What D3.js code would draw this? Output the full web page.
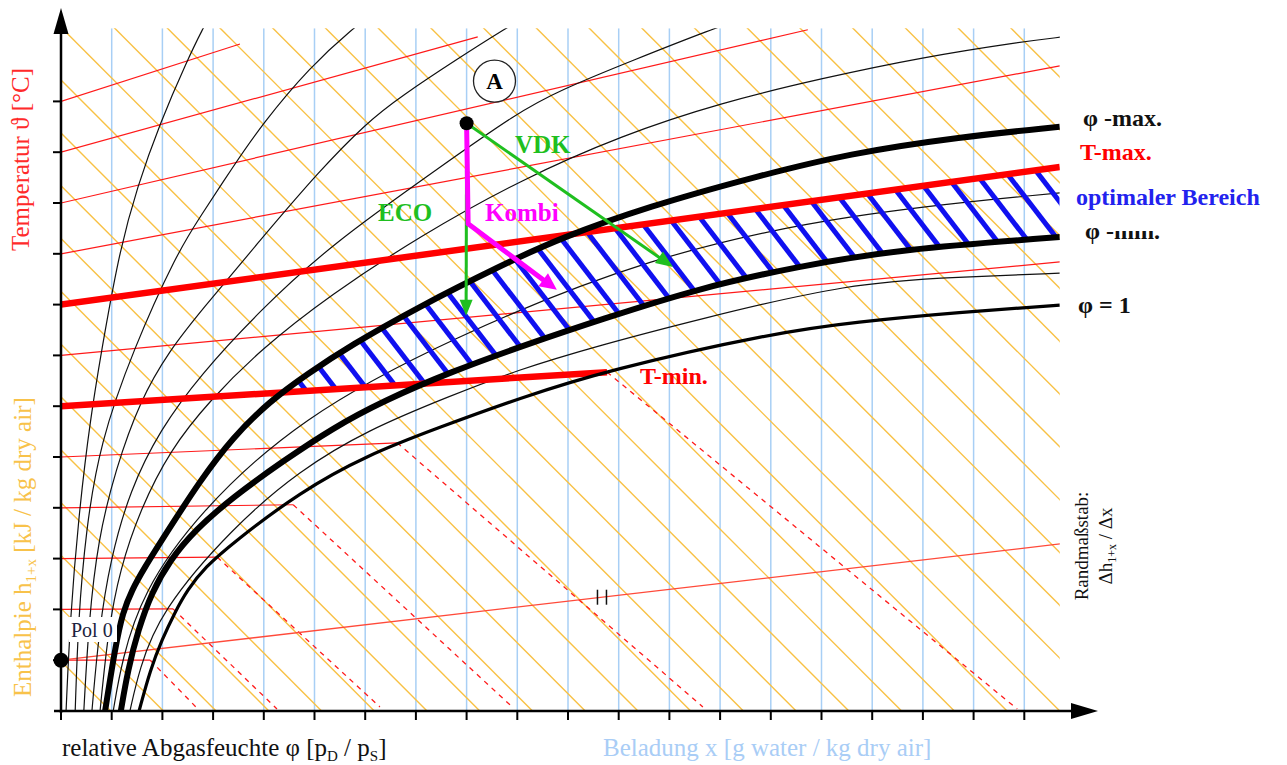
<!DOCTYPE html>
<html><head><meta charset="utf-8">
<script src="https://cdn.jsdelivr.net/npm/d3@7"></script>
<style>body{margin:0;background:#fff}svg{display:block}</style>
</head><body>
<svg id="chart" width="1287" height="765"></svg>
<script>
// ---------- DATA (grid units: one axis tick = 1) ----------
const xTickValues = [0,1,2,3,4,5,6,7,8,9,10,11,12,13,14,15,16,17,18,19];
const yTickValues = [1,2,3,4,5,6,7,8,9,10,11,12];
const beladungLines = [1,2,3,4,5,6,7,8,9,10,11,12,13,14,15,16,17,18,19];
const enthalpyLines = [0.98,2.02,3.06,4.10,5.14,6.18,7.22,8.26,9.30,10.34,11.38,12.42,13.46,14.50,15.54,16.58,17.62,18.66,19.70,20.74,21.78,22.82,23.86,24.90,25.94,26.98,28.02,29.06,30.10,31.14,32.18];
const isothermLevels = [1,2,3,4,5,6,7,8,9,10,11,12];
const isothermEnds = [[1.76,1.00],[2.21,2.01],[3.08,3.03],[4.58,4.06],[6.63,5.28],[10.77,6.67],[19.70,8.84],[19.70,10.71],[19.70,12.70],[14.73,13.41],[8.22,13.27],[3.53,13.13]];
const fogEnds = [[2.70,0.04],[4.26,0.04],[6.29,0.08],[8.90,0.08],[12.66,0.08],[18.86,0.04],null,null,null,null,null,null];
const tMinLevel = 6, tMaxLevel = 8;
const scaleLine = [[0,1],[19.72,3.29]];        // Randmaßstab from Pol 0
const scaleMark = [10.67,2.24];
const pol0 = [0,1];

const phiCurveA = [[0.10,0],[0.18,1.79],[0.34,3.76],[0.57,5.73],[0.87,7.50],[1.16,9.07],[1.50,10.31],[1.95,11.57],[2.49,12.81],[2.80,13.44],[2.98,13.76]];
const phiCurveB = [[0.28,0],[0.34,1.79],[0.49,3.56],[0.77,5.28],[1.42,7.11],[2.29,9.02],[2.74,9.72],[3.39,10.71],[3.98,11.57],[4.91,12.68],[5.76,13.44],[6.19,13.76]];
const phiCurveC = [[0.45,0],[0.55,1.79],[0.73,3.37],[1.07,4.74],[1.56,6.12],[2.15,7.11],[2.74,7.85],[3.93,9.27],[5.11,10.65],[6.04,11.59],[6.69,12.09],[7.87,12.87],[8.76,13.43],[9.25,13.72]];
const phiCurveD = [[0.61,0],[0.75,1.59],[0.97,2.97],[1.36,4.35],[1.95,5.53],[2.74,6.61],[3.93,7.89],[5.31,9.17],[7.48,10.71],[8.99,11.77],[9.84,12.22],[11.28,12.81],[12.86,13.43],[13.59,13.68]];
const phiCurveE = [[0.77,0],[0.93,1.59],[1.16,2.78],[1.56,3.96],[2.15,5.14],[2.94,6.12],[3.93,7.11],[5.31,8.19],[7.08,9.35],[9.05,10.45],[11.08,11.34],[13.00,11.97],[15.03,12.46],[17.00,12.87],[18.92,13.17],[19.76,13.27]];
const phiMax = [[0.87,0],[1.07,1.26],[1.22,1.95],[1.40,2.38],[1.62,2.78],[2.05,3.46],[2.74,4.53],[3.39,5.39],[4.12,6.10],[4.85,6.63],[5.70,7.19],[7.08,7.97],[8.66,8.76],[9.84,9.31],[11.62,9.94],[13.59,10.49],[15.56,10.98],[17.73,11.30],[19.70,11.50]];
const phiMid = [[1.03,0],[1.20,1.00],[1.60,2.32],[2.70,3.90],[4.71,5.77],[7.67,7.34],[11.62,8.96],[15.56,9.80],[19.70,10.20]];
const phiMin = [[1.18,0],[1.32,0.81],[1.52,1.59],[1.79,2.34],[2.15,2.97],[2.64,3.56],[3.39,4.21],[4.38,4.92],[5.36,5.57],[6.35,6.10],[7.67,6.67],[9.25,7.24],[10.63,7.70],[12.60,8.33],[14.58,8.76],[16.55,9.09],[19.70,9.33]];
const phiLow = [[1.36,0],[1.54,0.81],[1.95,1.95],[3.39,3.62],[4.71,4.74],[6.04,5.53],[7.67,6.20],[8.99,6.71],[10.63,7.20],[12.54,7.70],[15.56,8.43],[17.73,8.54],[19.70,8.62]];
const phiSat = [[1.54,0],[1.76,0.81],[1.99,1.40],[2.25,1.95],[2.49,2.38],[2.84,2.83],[3.39,3.31],[4.71,4.31],[6.04,5.04],[7.48,5.59],[9.05,6.16],[10.77,6.71],[14.04,7.44],[15.68,7.66],[17.73,7.85],[19.70,7.99]];

const stateA = [8.00,11.57];
const ecoEnd = [7.99,7.78];
const kombiCorner = [8.03,9.59];
const kombiEnd = [9.78,8.29];
const vdkEnd = [12.07,8.74];
const labelA = [8.55,12.40];

// ---------- SETUP ----------
const svg = d3.select("#chart");
const x = d3.scaleLinear().domain([0,20]).range([61,1075]);
const y = d3.scaleLinear().domain([0,13]).range([711,50.6]);
const U1 = 19.7, V1 = 13.44;
const serif = "'Liberation Serif','Times New Roman',serif";
const ORANGE = "#f8c144", LBLUE = "#a8cff5", RED = "#ff1a1a";

const defs = svg.append("defs");
defs.append("clipPath").attr("id","plotClip").append("rect")
  .attr("x",x(0)).attr("y",y(V1)).attr("width",x(U1)-x(0)).attr("height",y(0)-y(V1));

const curveGen = d3.line().x(d=>x(d[0])).y(d=>y(d[1])).curve(d3.curveBasis);
const straight = d3.line().x(d=>x(d[0])).y(d=>y(d[1]));

const plot = svg.append("g").attr("clip-path","url(#plotClip)");

// blue Beladung lines
plot.append("g").selectAll("line").data(beladungLines).join("line")
  .attr("x1",d=>x(d)).attr("x2",d=>x(d)).attr("y1",y(0)).attr("y2",y(V1))
  .attr("stroke",LBLUE).attr("stroke-width",1.5);

// orange isenthalps
plot.append("g").selectAll("line").data(enthalpyLines).join("line")
  .attr("x1",d=>x(d)).attr("y1",y(0)).attr("x2",d=>x(d-15)).attr("y2",y(15))
  .attr("stroke",ORANGE).attr("stroke-width",1.4);

// thin isotherms
const iso = isothermLevels.map((lv,i)=>({lv, end:isothermEnds[i], fog:fogEnds[i]}));
plot.append("g").selectAll("path").data(iso.filter(d=>d.lv!==tMinLevel && d.lv!==tMaxLevel)).join("path")
  .attr("d",d=>straight([[0,d.lv],d.end])).attr("fill","none")
  .attr("stroke",RED).attr("stroke-width",1.2);
plot.append("g").selectAll("path").data(iso.filter(d=>d.fog)).join("path")
  .attr("d",d=>straight([d.end,d.fog])).attr("fill","none")
  .attr("stroke",RED).attr("stroke-width",1.3).attr("stroke-dasharray","5,5");

// Randmaßstab line
plot.append("path").attr("d",straight(scaleLine)).attr("fill","none")
  .attr("stroke","#ff4a3a").attr("stroke-width",1.3);
[-4.5,4.5].forEach(o=>{
  plot.append("line").attr("x1",x(scaleMark[0])+o).attr("x2",x(scaleMark[0])+o)
    .attr("y1",y(scaleMark[1])-7.5).attr("y2",y(scaleMark[1])+7.5)
    .attr("stroke","#111").attr("stroke-width",1.5);
});

// thin phi curves
[phiCurveA,phiCurveB,phiCurveC,phiCurveD,phiCurveE,phiMid,phiLow].forEach(c=>{
  plot.append("path").attr("d",curveGen(c)).attr("fill","none")
    .attr("stroke","#111").attr("stroke-width",1.2);
});

// ---------- hatched optimum region ----------
const pMax = curveGen(phiMax);
const pMinRev = curveGen(phiMin.slice().reverse()).replace(/^M/,"L");
defs.append("clipPath").attr("id","phiBand").append("path").attr("d",pMax+pMinRev+"Z");
const tMinEnd = iso[tMinLevel-1].end, tMaxEnd = iso[tMaxLevel-1].end;
const tMinSlope = (tMinEnd[1]-tMinLevel)/tMinEnd[0];
defs.append("clipPath").attr("id","tBand").append("path")
  .attr("d",straight([[0,tMaxLevel],tMaxEnd,[U1,tMinLevel+tMinSlope*U1],[0,tMinLevel]])+"Z");
const hatch = plot.append("g").attr("clip-path","url(#phiBand)").append("g").attr("clip-path","url(#tBand)");
const hSlope = 1.3, hStep = 31, hPhase = 25.5;
for(let i=0;i<60;i++){
  const xb = hPhase + i*hStep;       // x where hatch line meets baseline
  hatch.append("line").attr("x1",xb).attr("y1",711).attr("x2",xb-600).attr("y2",711-600*hSlope)
    .attr("stroke","#1010f0").attr("stroke-width",5);
}

// thick isotherms
plot.append("path").attr("d",straight([[0,tMaxLevel],tMaxEnd])).attr("stroke","#ff0000").attr("stroke-width",6.5).attr("fill","none");
plot.append("path").attr("d",straight([[0,tMinLevel],tMinEnd])).attr("stroke","#ff0000").attr("stroke-width",6.5).attr("fill","none");

// bold phi curves
plot.append("path").attr("d",curveGen(phiSat)).attr("fill","none").attr("stroke","#000").attr("stroke-width",3.2);
plot.append("path").attr("d",pMax).attr("fill","none").attr("stroke","#000").attr("stroke-width",6);
plot.append("path").attr("d",curveGen(phiMin)).attr("fill","none").attr("stroke","#000").attr("stroke-width",6);

// ---------- process arrows ----------
function arrowHead(g, from, tip, len, hw, color){
  const fx=x(from[0]), fy=y(from[1]), tx=x(tip[0]), ty=y(tip[1]);
  const dx=tx-fx, dy=ty-fy, L=Math.hypot(dx,dy), ux=dx/L, uy=dy/L;
  const bx=tx-ux*len, by=ty-uy*len;
  g.append("path").attr("d",`M${tx},${ty}L${bx-uy*hw},${by+ux*hw}L${bx+uy*hw},${by-ux*hw}Z`).attr("fill",color);
  return [bx+ux*2, by+uy*2];
}
const proc = svg.append("g");
const GREEN = "#1fbf1f", MAG = "#ff00ff";
{
  const b = arrowHead(proc, stateA, ecoEnd, 16, 6.5, GREEN);
  proc.append("line").attr("x1",x(stateA[0])).attr("y1",y(stateA[1])).attr("x2",b[0]).attr("y2",b[1]).attr("stroke",GREEN).attr("stroke-width",3);
  const b2 = arrowHead(proc, stateA, vdkEnd, 17, 7, GREEN);
  proc.append("line").attr("x1",x(stateA[0])).attr("y1",y(stateA[1])).attr("x2",b2[0]).attr("y2",b2[1]).attr("stroke",GREEN).attr("stroke-width",3);
  const b3 = arrowHead(proc, kombiCorner, kombiEnd, 17, 8, MAG);
  proc.append("path").attr("d",`M${x(stateA[0])},${y(stateA[1])}L${x(kombiCorner[0])},${y(kombiCorner[1])}L${b3[0]},${b3[1]}`)
    .attr("fill","none").attr("stroke",MAG).attr("stroke-width",5).attr("stroke-linejoin","miter");
}
proc.append("circle").attr("cx",x(stateA[0])).attr("cy",y(stateA[1])).attr("r",7).attr("fill","#000");
proc.append("circle").attr("cx",x(labelA[0])).attr("cy",y(labelA[1])).attr("r",21).attr("fill","#fff").attr("stroke","#222").attr("stroke-width",1.3);
proc.append("text").attr("x",x(labelA[0])).attr("y",y(labelA[1])+8).attr("text-anchor","middle")
  .attr("font-family",serif).attr("font-weight","bold").attr("font-size",23).text("A");

function label(txt,px,py,color,size,weight){
  return svg.append("text").attr("x",px).attr("y",py).attr("fill",color)
    .attr("font-family",serif).attr("font-size",size).attr("font-weight",weight||"bold").text(txt);
}
label("VDK",515,153,GREEN,25);
label("ECO",378,221,GREEN,25);
label("Kombi",485,221,MAG,25);
label("T-min.",640,384,"#ff0000",24);

// ---------- axes ----------
const ax = svg.append("g");
ax.append("line").attr("x1",61).attr("y1",713).attr("x2",61).attr("y2",30).attr("stroke","#000").attr("stroke-width",2.5);
ax.append("path").attr("d","M61,8L53.5,34L68.5,34Z").attr("fill","#000");
ax.append("line").attr("x1",54).attr("y1",711).attr("x2",1075).attr("y2",711).attr("stroke","#000").attr("stroke-width",2.5);
ax.append("path").attr("d","M1098,711L1071,703L1071,719Z").attr("fill","#000");
ax.append("g").selectAll("line").data(yTickValues).join("line")
  .attr("x1",53).attr("x2",61).attr("y1",d=>y(d)).attr("y2",d=>y(d)).attr("stroke","#000").attr("stroke-width",2);
ax.append("g").selectAll("line").data(xTickValues).join("line")
  .attr("x1",d=>x(d)).attr("x2",d=>x(d)).attr("y1",711).attr("y2",720).attr("stroke","#000").attr("stroke-width",2);

// Pol 0
svg.append("rect").attr("x",69).attr("y",617).attr("width",48).attr("height",25).attr("fill","#fff");
label("Pol 0",71,637,"#1b2340",20,"normal");
svg.append("circle").attr("cx",x(pol0[0])).attr("cy",y(pol0[1])).attr("r",7.5).attr("fill","#000");

// right-hand labels
label("\u03c6 -max.",1083,126,"#111",24);
label("T-max.",1080,160,"#ff0000",24);
label("optimaler Bereich",1076,205,"#2222ee",24);
label("\u03c6 -min.",1085,239,"#111",24);
svg.append("rect").attr("x",1104).attr("y",222).attr("width",62).attr("height",9).attr("fill","#fff");
label("\u03c6 = 1",1078,313,"#111",24);

// axis titles
svg.append("text").attr("transform","translate(29,251) rotate(-90)")
  .attr("font-family",serif).attr("font-size",25).attr("fill","#ff2a2a").text("Temperatur \u03d1 [\u00b0C]");
const t2 = svg.append("text").attr("transform","translate(31,697) rotate(-90)")
  .attr("font-family",serif).attr("font-size",25).attr("fill","#f8c24a");
t2.append("tspan").text("Enthalpie h");
t2.append("tspan").attr("font-size",15).attr("dy",5).text("1+x");
t2.append("tspan").attr("dy",-5).text(" [kJ / kg dry air]");

const b1 = svg.append("text").attr("x",62).attr("y",756).attr("font-family",serif).attr("font-size",25).attr("fill","#111");
b1.append("tspan").text("relative Abgasfeuchte \u03c6 [p");
b1.append("tspan").attr("font-size",15).attr("dy",5).text("D");
b1.append("tspan").attr("dy",-5).text(" / p");
b1.append("tspan").attr("font-size",15).attr("dy",5).text("S");
b1.append("tspan").attr("dy",-5).text("]");
svg.append("text").attr("x",603).attr("y",756).attr("font-family",serif).attr("font-size",25)
  .attr("fill","#a9cdf6").text("Beladung x [g water / kg dry air]");

svg.append("text").attr("transform","translate(1088,546) rotate(-90)").attr("text-anchor","middle")
  .attr("font-family",serif).attr("font-size",19).attr("fill","#111").text("Randma\u00dfstab:");
const r2 = svg.append("text").attr("transform","translate(1112,546) rotate(-90)").attr("text-anchor","middle")
  .attr("font-family",serif).attr("font-size",19).attr("fill","#111");
r2.append("tspan").text("\u0394h");
r2.append("tspan").attr("font-size",12).attr("dy",4).text("1+x");
r2.append("tspan").attr("dy",-4).text(" / \u0394x");
</script>
</body></html>
